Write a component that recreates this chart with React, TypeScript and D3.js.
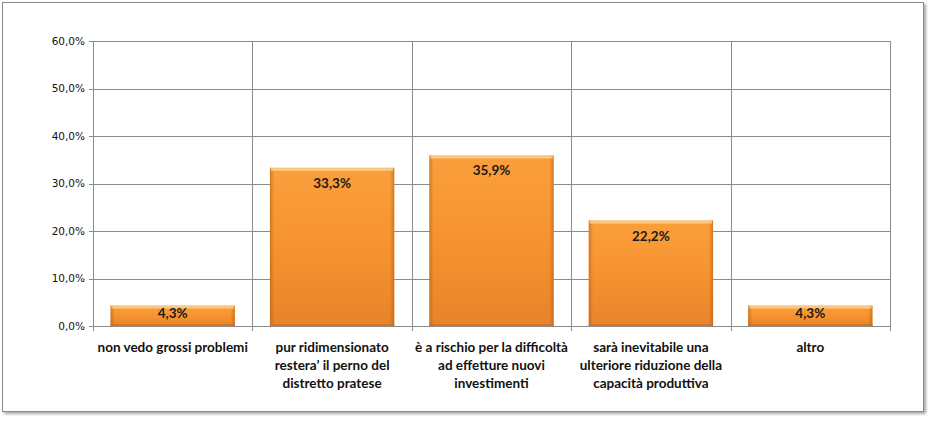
import React from 'react';
import * as d3 from 'd3';

const categories = [
    ['non vedo grossi problemi'],
    ['pur ridimensionato', 'restera\u2019 il perno del', 'distretto pratese'],
    ['\u00e8 a rischio per la difficolt\u00e0', 'ad effetture nuovi', 'investimenti'],
    ['sar\u00e0 inevitabile una', 'ulteriore riduzione della', 'capacit\u00e0 produttiva'],
    ['altro'],
];
const values = [4.3, 33.3, 35.9, 22.2, 4.3];
const yTicks = [0, 10, 20, 30, 40, 50, 60];

const W = 932;
const H = 421;
const plot = { left: 93, right: 890, top: 41, bottom: 326 };

const fmt = (v: number) => v.toFixed(1).replace('.', ',') + '%';

export default function App() {
    const x = d3
        .scaleBand<number>()
        .domain(d3.range(values.length))
        .range([plot.left, plot.right])
        .paddingInner(0.22)
        .paddingOuter(0.11);

    const step = (plot.right - plot.left) / values.length;

    const y = d3
        .scaleLinear()
        .domain([0, 60])
        .range([plot.bottom, plot.top]);

    const grid = '#8c8c8c';

    return (
        <svg width={W} height={H} style={{ position: 'absolute', left: 0, top: 0 }}>
            <defs>
                <linearGradient id="barV" x1="0" y1="0" x2="0" y2="1">
                    <stop offset="0" stopColor="#fa9f3c" />
                    <stop offset="0.5" stopColor="#f6932f" />
                    <stop offset="1" stopColor="#e8832a" />
                </linearGradient>
                <linearGradient id="barH" x1="0" y1="0" x2="1" y2="0">
                    <stop offset="0" stopColor="#a8540f" stopOpacity="0.5" />
                    <stop offset="0.035" stopColor="#a8540f" stopOpacity="0" />
                    <stop offset="0.965" stopColor="#a8540f" stopOpacity="0" />
                    <stop offset="1" stopColor="#a8540f" stopOpacity="0.5" />
                </linearGradient>
                <filter id="shadow" x="-5%" y="-5%" width="110%" height="110%">
                    <feDropShadow dx="2" dy="2" stdDeviation="1.5" floodColor="#000" floodOpacity="0.35" />
                </filter>
            </defs>

            <rect x={2.5} y={2.5} width={921} height={409} fill="#fff" stroke="#8a8a8a" filter="url(#shadow)" />

            {yTicks.map((t) => (
                <g key={t}>
                    <line x1={plot.left - 4} x2={plot.right} y1={Math.round(y(t)) + 0.5} y2={Math.round(y(t)) + 0.5} stroke={grid} />
                    <text
                        x={plot.left - 8}
                        y={y(t)}
                        dy="0.35em"
                        textAnchor="end"
                        fontFamily="DejaVu Sans"
                        fontSize={10.5}
                        fill="#111"
                    >
                        {fmt(t)}
                    </text>
                </g>
            ))}

            {d3.range(values.length + 1).map((i) => {
                const xx = Math.round(plot.left + i * step) + 0.5;
                return <line key={i} x1={xx} x2={xx} y1={plot.top} y2={plot.bottom + 5} stroke={grid} />;
            })}

            {values.map((v, i) => {
                const bx = x(i) as number;
                const bw = x.bandwidth();
                const by = y(v);
                const bh = plot.bottom - by;
                return (
                    <g key={i}>
                        <rect x={bx} y={by} width={bw} height={bh} fill="url(#barV)" />
                        <rect x={bx} y={by} width={bw} height={bh} fill="url(#barH)" />
                        <rect x={bx + 1} y={by} width={bw - 2} height={Math.min(3, bh)} fill="#fdcf8a" opacity={0.85} />
                        <rect x={bx} y={plot.bottom - 2} width={bw} height={2} fill="#c96d1c" opacity={0.6} />
                        <text
                            x={bx + bw / 2}
                            y={Math.min(by + 20, by + bh / 2 + 2)}
                            textAnchor="middle"
                            fontFamily="Lato"
                            fontWeight="bold"
                            fontSize={13.5}
                            fill="#1a1a1a"
                        >
                            {fmt(v)}
                        </text>
                    </g>
                );
            })}

            {categories.map((lines, i) => (
                <text
                    key={i}
                    x={(x(i) as number) + x.bandwidth() / 2}
                    y={352}
                    textAnchor="middle"
                    fontFamily="Lato"
                    fontWeight="bold"
                    fontSize={13.5}
                    fill="#111"
                >
                    {lines.map((l, k) => (
                        <tspan key={k} x={(x(i) as number) + x.bandwidth() / 2} dy={k === 0 ? 0 : 18}>
                            {l}
                        </tspan>
                    ))}
                </text>
            ))}
        </svg>
    );
}
